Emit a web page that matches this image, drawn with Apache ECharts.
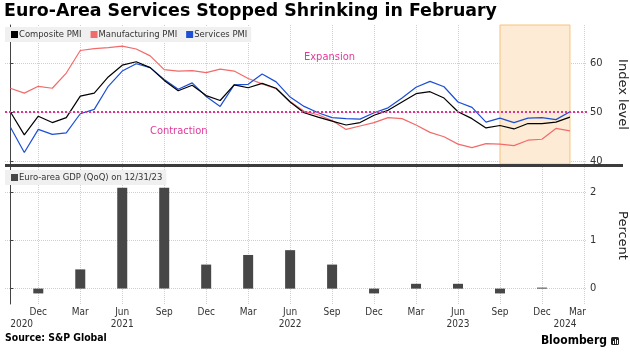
<!DOCTYPE html>
<html>
<head>
<meta charset="utf-8">
<script src="https://cdn.jsdelivr.net/npm/echarts@6/dist/echarts.min.js"></script>
<style>html,body{margin:0;padding:0;background:#fff;}#c{width:630px;height:361px;}</style>
</head>
<body>
<div id="c"></div>
<script>
// Month index: 0 = Oct 2020 ... 40 = Feb 2024
var months = ['Oct 2020','Nov 2020','Dec 2020','Jan 2021','Feb 2021','Mar 2021','Apr 2021','May 2021','Jun 2021','Jul 2021','Aug 2021','Sep 2021','Oct 2021','Nov 2021','Dec 2021','Jan 2022','Feb 2022','Mar 2022','Apr 2022','May 2022','Jun 2022','Jul 2022','Aug 2022','Sep 2022','Oct 2022','Nov 2022','Dec 2022','Jan 2023','Feb 2023','Mar 2023','Apr 2023','May 2023','Jun 2023','Jul 2023','Aug 2023','Sep 2023','Oct 2023','Nov 2023','Dec 2023','Jan 2024','Feb 2024'];
var composite = [50.0,45.3,49.1,47.8,48.8,53.2,53.8,57.1,59.5,60.2,59.0,56.4,54.3,55.4,53.3,52.3,55.5,54.9,55.8,54.8,52.0,49.8,48.9,48.1,47.3,47.8,49.3,50.3,52.0,53.7,54.1,52.8,50.0,48.6,46.7,47.2,46.5,47.6,47.6,47.9,48.9];
var manufacturing = [54.8,53.8,55.2,54.8,57.9,62.5,62.9,63.1,63.4,62.8,61.4,58.6,58.3,58.4,58.0,58.7,58.3,56.8,55.7,54.7,52.1,50.1,49.4,48.2,46.4,47.1,47.8,48.8,48.6,47.3,45.8,44.9,43.4,42.7,43.5,43.4,43.1,44.2,44.4,46.6,46.1];
var services = [46.9,41.7,46.4,45.4,45.7,49.6,50.5,55.2,58.3,59.8,59.0,56.6,54.6,55.9,53.1,51.1,55.5,55.6,57.7,56.1,53.0,51.1,49.8,48.8,48.6,48.5,49.8,50.8,52.8,55.0,56.2,55.1,52.0,50.9,47.9,48.7,47.8,48.7,48.8,48.4,50.0];
var gdpQuarters = ['Dec 2020','Mar 2021','Jun 2021','Sep 2021','Dec 2021','Mar 2022','Jun 2022','Sep 2022','Dec 2022','Mar 2023','Jun 2023','Sep 2023','Dec 2023'];
var gdp = [-0.1,0.4,2.1,2.1,0.5,0.7,0.8,0.5,-0.1,0.1,0.1,-0.1,0.0];
var xTickLabels = ['Dec','Mar','Jun','Sep','Dec','Mar','Jun','Sep','Dec','Mar','Jun','Sep','Dec','Mar'];
var yearLabels = ['2020','2021','2022','2023','2024'];
var pmiTicks = [40,50,60];
var gdpTicks = [0,1,2];

var FONT = '"DejaVu Sans Condensed","DejaVu Sans",sans-serif';
var WIDE = '"DejaVu Sans",sans-serif';
var idx = function (m) { return months.indexOf(m); };
var xMin = -0.38, xMax = 41.22;
var xTickVals = xTickLabels.map(function (_, i) { return 2 + 3 * i; });
var yearVals = [0.81, 8, 20, 32, 39.65];
function pairs(arr) { return arr.map(function (v, i) { return [i, v]; }); }
var gdpData = gdpQuarters.map(function (q, i) { return [idx(q) >= 0 ? idx(q) : 2 + 3 * i, gdp[i]]; });

var gridLine = { show: true, lineStyle: { color: '#cfcfcf', type: 'dotted', width: 1 } };
var chart = echarts.init(document.getElementById('c'));
chart.setOption({
  animation: false,
  textStyle: { fontFamily: FONT },
  title: { text: 'Euro-Area Services Stopped Shrinking in February', left: 4, top: 3, padding: 0,
    textStyle: { fontFamily: WIDE, fontSize: 17.4, fontWeight: 'bold', color: '#000' } },
  legend: [
    { data: ['Composite PMI', 'Manufacturing PMI', 'Services PMI'], left: 5, top: 27, orient: 'horizontal',
      backgroundColor: '#f0f0f0', padding: [3, 4, 3, 6], itemWidth: 7, itemHeight: 7, itemGap: 9, icon: 'rect',
      textStyle: { fontFamily: FONT, fontSize: 9.4, color: '#333', padding: [0, 0, 0, -4] } },
    { data: ['Euro-area GDP (QoQ) on 12/31/23'], left: 5, top: 170,
      backgroundColor: '#f0f0f0', padding: [3, 4, 3, 6], itemWidth: 7, itemHeight: 7, icon: 'rect',
      textStyle: { fontFamily: FONT, fontSize: 9.4, color: '#333', padding: [0, 0, 0, -4] } }
  ],
  grid: [
    { left: 5, right: 43, top: 25, height: 139, outerBoundsMode: 'none', containLabel: false },
    { left: 5, right: 43, top: 167, height: 137, outerBoundsMode: 'none', containLabel: false }
  ],
  xAxis: [
    { type: 'value', gridIndex: 0, min: xMin, max: xMax, axisLine: { show: false },
      axisTick: { show: false, customValues: xTickVals }, axisLabel: { show: false, customValues: xTickVals },
      splitLine: gridLine },
    { type: 'value', gridIndex: 1, min: xMin, max: xMax, position: 'bottom', axisLine: { show: false },
      axisTick: { show: false, customValues: xTickVals },
      axisLabel: { customValues: xTickVals, margin: 3, fontSize: 10, color: '#333', fontFamily: FONT,
        formatter: function (v) { var k = Math.round((v - 2) / 3); return k === xTickLabels.length - 1 ? '{r|' + xTickLabels[k] + '}' : xTickLabels[k]; },
        rich: { r: { fontSize: 10, color: '#333', fontFamily: FONT, padding: [0, 13, 0, 0] } } },
      splitLine: gridLine },
    { type: 'value', gridIndex: 1, min: xMin, max: xMax, position: 'bottom', offset: 0, axisLine: { show: false },
      axisTick: { show: false, customValues: yearVals }, splitLine: { show: false },
      axisLabel: { customValues: yearVals, margin: 15, fontSize: 10, color: '#333', fontFamily: FONT,
        formatter: function (v) { var best = 0; yearVals.forEach(function (y, j) { if (Math.abs(y - v) < Math.abs(yearVals[best] - v)) best = j; }); return yearLabels[best]; } } }
  ],
  yAxis: [
    { type: 'value', gridIndex: 0, position: 'right', min: 39.35, max: 67.7,
      axisLine: { show: true, lineStyle: { color: '#444', width: 1 } },
      axisTick: { show: true, length: 3, customValues: pmiTicks, lineStyle: { color: '#444' } },
      axisLabel: { customValues: pmiTicks, margin: 3, fontSize: 11, color: '#333', fontFamily: FONT },
      splitLine: gridLine,
      name: 'Index level', nameLocation: 'middle', nameRotate: -90, nameGap: 29,
      nameTextStyle: { fontSize: 13, color: '#222', fontFamily: WIDE } },
    { type: 'value', gridIndex: 1, position: 'right', min: -0.32, max: 2.53,
      axisLine: { show: true, lineStyle: { color: '#444', width: 1 } },
      axisTick: { show: true, length: 3, customValues: gdpTicks, lineStyle: { color: '#444' } },
      axisLabel: { customValues: gdpTicks, margin: 3, fontSize: 11, color: '#333', fontFamily: FONT },
      splitLine: gridLine,
      name: 'Percent', nameLocation: 'middle', nameRotate: -90, nameGap: 29,
      nameTextStyle: { fontSize: 13, color: '#222', fontFamily: WIDE } }
  ],
  series: [
    { name: 'Manufacturing PMI', type: 'line', xAxisIndex: 0, yAxisIndex: 0, data: pairs(manufacturing),
      symbol: 'none', color: '#f26b6b', lineStyle: { width: 1.2, color: '#f26b6b' },
      markArea: { silent: true, itemStyle: { color: '#fdebd5', borderColor: '#f6c27c', borderWidth: 1 },
        data: [[{ xAxis: idx('Sep 2023') }, { xAxis: idx('Feb 2024') }]] },
      markLine: { silent: true, symbol: 'none', label: { show: false },
        lineStyle: { type: 'dotted', color: '#d93591', width: 2 }, data: [{ yAxis: 50 }] } },
    { name: 'Services PMI', type: 'line', xAxisIndex: 0, yAxisIndex: 0, data: pairs(services),
      symbol: 'none', color: '#1c4fd6', lineStyle: { width: 1.2, color: '#1c4fd6' } },
    { name: 'Composite PMI', type: 'line', xAxisIndex: 0, yAxisIndex: 0, data: pairs(composite),
      symbol: 'none', color: '#000', lineStyle: { width: 1.2, color: '#000' } },
    { name: 'Euro-area GDP (QoQ) on 12/31/23', type: 'bar', xAxisIndex: 1, yAxisIndex: 1, data: gdpData,
      barWidth: 10, barMinHeight: 1, color: '#474747', itemStyle: { color: '#474747' } }
  ],
  graphic: [
    { type: 'rect', shape: { x: 5, y: 164, width: 618, height: 3 }, style: { fill: '#3c3c3c' }, z: 10 },
    { type: 'text', x: 304, y: 57, style: { text: 'Expansion', fill: '#e2399a', font: '11px ' + FONT, textVerticalAlign: 'middle' }, z: 10 },
    { type: 'text', x: 150, y: 131, style: { text: 'Contraction', fill: '#e2399a', font: '11px ' + FONT, textVerticalAlign: 'middle' }, z: 10 },
    { type: 'text', x: 5, y: 338, style: { text: 'Source: S&P Global', fill: '#000', font: 'bold 10.4px ' + FONT, textVerticalAlign: 'middle' }, z: 10 },
    { type: 'text', x: 607, y: 341, style: { text: 'Bloomberg', fill: '#000', font: 'bold 12px ' + FONT, textAlign: 'right', textVerticalAlign: 'middle' }, z: 10 },
    { type: 'rect', shape: { x: 611, y: 337, width: 8, height: 8, r: 1.5 }, style: { fill: '#222' }, z: 10 },
    { type: 'rect', shape: { x: 613, y: 341, width: 1, height: 3 }, style: { fill: '#fff' }, z: 11 },
    { type: 'rect', shape: { x: 615, y: 339, width: 1, height: 5 }, style: { fill: '#fff' }, z: 11 },
    { type: 'rect', shape: { x: 617, y: 340, width: 1, height: 4 }, style: { fill: '#fff' }, z: 11 }
  ]
});
</script>
</body>
</html>
